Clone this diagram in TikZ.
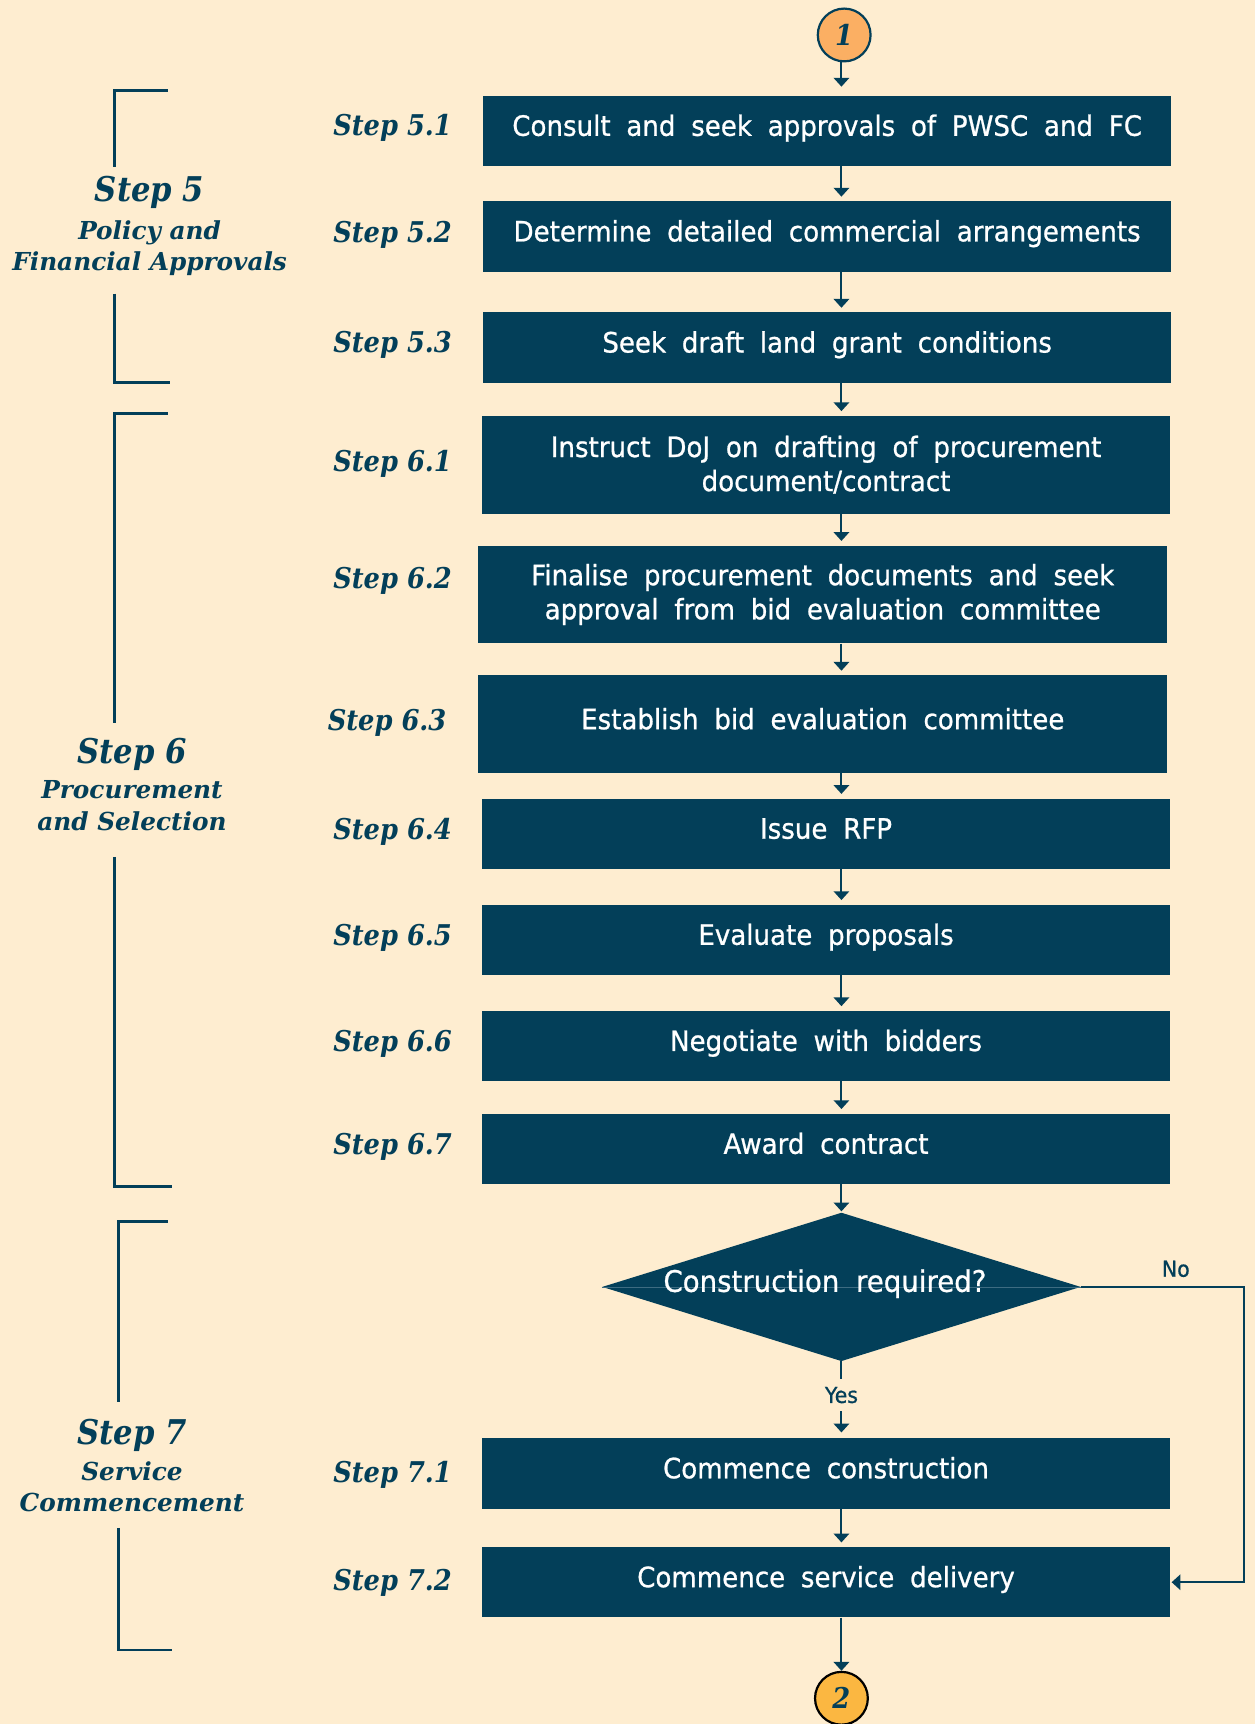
\documentclass[tikz,border=0pt]{standalone}
\usepackage{fontspec}
\setmainfont{DejaVu Sans}
\newfontfamily\boxfont{DejaVu Sans}[FakeStretch=0.93, WordSpace=1.9, FakeBold=0.8]
\newfontfamily\stepfont{DejaVu Serif}[FakeStretch=0.9]
\newfontfamily\grpfont{DejaVu Serif}
\usetikzlibrary{arrows.meta,shapes.geometric}
\definecolor{bg}{HTML}{FEEDD0}
\definecolor{navy}{HTML}{033F59}
\definecolor{thinln}{HTML}{3D6C82}
\definecolor{orangeA}{HTML}{FBAF63}
\definecolor{orangeB}{HTML}{FBB741}
\tikzset{
  boxbase/.style={fill=navy, draw=none, minimum width=626pt, minimum height=64pt, inner sep=0pt,
    text=white, font=\boxfont\fontsize{25.5}{31}\selectfont, align=center},
  box/.style={boxbase, text height=15pt, text depth=6pt},
  tallbox/.style={boxbase, minimum height=89pt},
  dia/.style={diamond, fill=navy, draw=none, minimum width=435pt, minimum height=135pt, inner sep=0pt, aspect=3.22},
  dtext/.style={text=white, font=\boxfont\fontsize{27}{31}\selectfont, inner sep=0pt, text height=15pt, text depth=6pt},
  steplbl/.style={font=\stepfont\bfseries\itshape\fontsize{26}{30}\selectfont, text=navy, anchor=base east, inner sep=0pt},
  grpbig/.style={font=\stepfont\bfseries\itshape\fontsize{31}{34}\selectfont, text=navy, anchor=base, inner sep=0pt},
  grpsmall/.style={font=\grpfont\bfseries\itshape\fontsize{22.5}{28}\selectfont, text=navy, anchor=base, inner sep=0pt},
  arr/.style={draw=navy, line width=1.8pt, -{Triangle[width=14pt,length=8pt]}, shorten >=4pt},
  brk/.style={draw=navy, line width=2.2pt},
  conn/.style={circle, line width=2pt, minimum size=48pt, inner sep=0pt, text=navy,
    font=\stepfont\bfseries\itshape\fontsize{26}{26}\selectfont},
  yn/.style={text=navy, font=\boxfont\fontsize{20}{22}\selectfont, inner sep=2pt}
}
\begin{document}
\begin{tikzpicture}[x=1pt,y=-1pt]
\fill[bg] (0,0) rectangle (1141,1567.4);
\useasboundingbox (0,0) rectangle (1141,1567.4);

% brackets
\draw[brk] (152.7,82.4) -- (104,82.4) -- (104,151.5);
\draw[brk] (104,267) -- (104,347.6) -- (155,347.6);
\draw[brk] (152.7,375.8) -- (104,375.8) -- (104,657);
\draw[brk] (104,779) -- (104,1078.8) -- (156,1078.8);
\draw[brk] (152.7,1110.4) -- (107.6,1110.4) -- (107.6,1275);
\draw[brk] (107.6,1389) -- (107.6,1500) -- (156,1500);

% group labels
\node[grpbig] (g5) at (136,183) {Step 5};
\node[grpsmall] (g5a) at (136,217.6) {Policy and};
\node[grpsmall] (g5b) at (136,246) {Financial Approvals};
\node[grpbig] (g6) at (120,694.5) {Step 6};
\node[grpsmall] (g6a) at (120,726) {Procurement};
\node[grpsmall] (g6b) at (120,755) {and Selection};
\node[grpbig] (g7) at (120,1313) {Step 7};
\node[grpsmall] (g7a) at (120,1346) {Service};
\node[grpsmall] (g7b) at (120,1374.6) {Commencement};

% step labels
\node[steplbl] (s51) at (411,123.6) {Step 5.1};
\node[steplbl] (s52) at (411,220.6) {Step 5.2};
\node[steplbl] (s53) at (411,320.6) {Step 5.3};
\node[steplbl] (s61) at (411,428.8) {Step 6.1};
\node[steplbl] (s62) at (411,534.8) {Step 6.2};
\node[steplbl] (s63) at (406,664.5) {Step 6.3};
\node[steplbl] (s64) at (411,763.6) {Step 6.4};
\node[steplbl] (s65) at (411,860) {Step 6.5};
\node[steplbl] (s66) at (411,956) {Step 6.6};
\node[steplbl] (s67) at (411,1050) {Step 6.7};
\node[steplbl] (s71) at (411,1348) {Step 7.1};
\node[steplbl] (s72) at (411,1446.4) {Step 7.2};

% connectors circles
\node[conn, fill=orangeA, draw=navy] (c1) at (767.5,31.8) {1};
\node[conn, fill=orangeB, draw=black] (c2) at (765,1544) {2};

% boxes
\node[box] (b51) at (752,119) {Consult and seek approvals of PWSC and FC};
\node[box] (b52) at (752,215) {Determine detailed commercial arrangements};
\node[box] (b53) at (752,316) {Seek draft land grant conditions};
\node[tallbox] (b61) at (751,422.5) {Instruct DoJ on drafting of procurement\\document/contract};
\node[tallbox] (b62) at (748,540.5) {Finalise procurement documents and seek\\approval from bid evaluation committee};
\node[box, minimum height=89pt] (b63) at (748,658.5) {Establish bid evaluation committee};
\node[box] (b64) at (751,758) {Issue RFP};
\node[box] (b65) at (751,854.5) {Evaluate proposals};
\node[box] (b66) at (751,951) {Negotiate with bidders};
\node[box] (b67) at (751,1044.5) {Award contract};
\node[dia] (d) at (765,1170) {};
\draw[thinln, line width=0.6pt] (d.west) -- (d.east);
\node[dtext] (dt) at (750,1170) {Construction required?};
\node[box] (b71) at (751,1339.5) {Commence construction};
\node[box] (b72) at (751,1438.5) {Commence service delivery};

% arrows
\coordinate (ax) at (765,0);
\coordinate (nx) at (1131,1170);
\draw[arr, shorten >=8pt] (c1.south -| ax) -- (b51.north -| ax);
\draw[arr] (b51.south -| ax) -- (b52.north -| ax);
\draw[arr] (b52.south -| ax) -- (b53.north -| ax);
\draw[arr] (b53.south -| ax) -- (b61.north -| ax);
\draw[arr] (b61.south -| ax) -- (b62.north -| ax);
\draw[arr] (b62.south -| ax) -- (b63.north -| ax);
\draw[arr] (b63.south -| ax) -- (b64.north -| ax);
\draw[arr] (b64.south -| ax) -- (b65.north -| ax);
\draw[arr] (b65.south -| ax) -- (b66.north -| ax);
\draw[arr] (b66.south -| ax) -- (b67.north -| ax);
\draw[arr, shorten >=1pt] (b67.south -| ax) -- (d.north);
\draw[arr, shorten >=5pt] (d.south) -- node[yn, pos=0.44, fill=bg, inner ysep=7pt] (yes) {Yes} (b71.north -| ax);
\draw[arr] (b71.south -| ax) -- (b72.north -| ax);
\draw[arr, shorten >=0pt] (b72.south -| ax) -- (c2.north);
\draw[arr, shorten >=1pt] (d.east) -- (nx) |- (b72.east);
\node[yn] (no) at (1069,1153.6) {No};
\end{tikzpicture}
\end{document}
